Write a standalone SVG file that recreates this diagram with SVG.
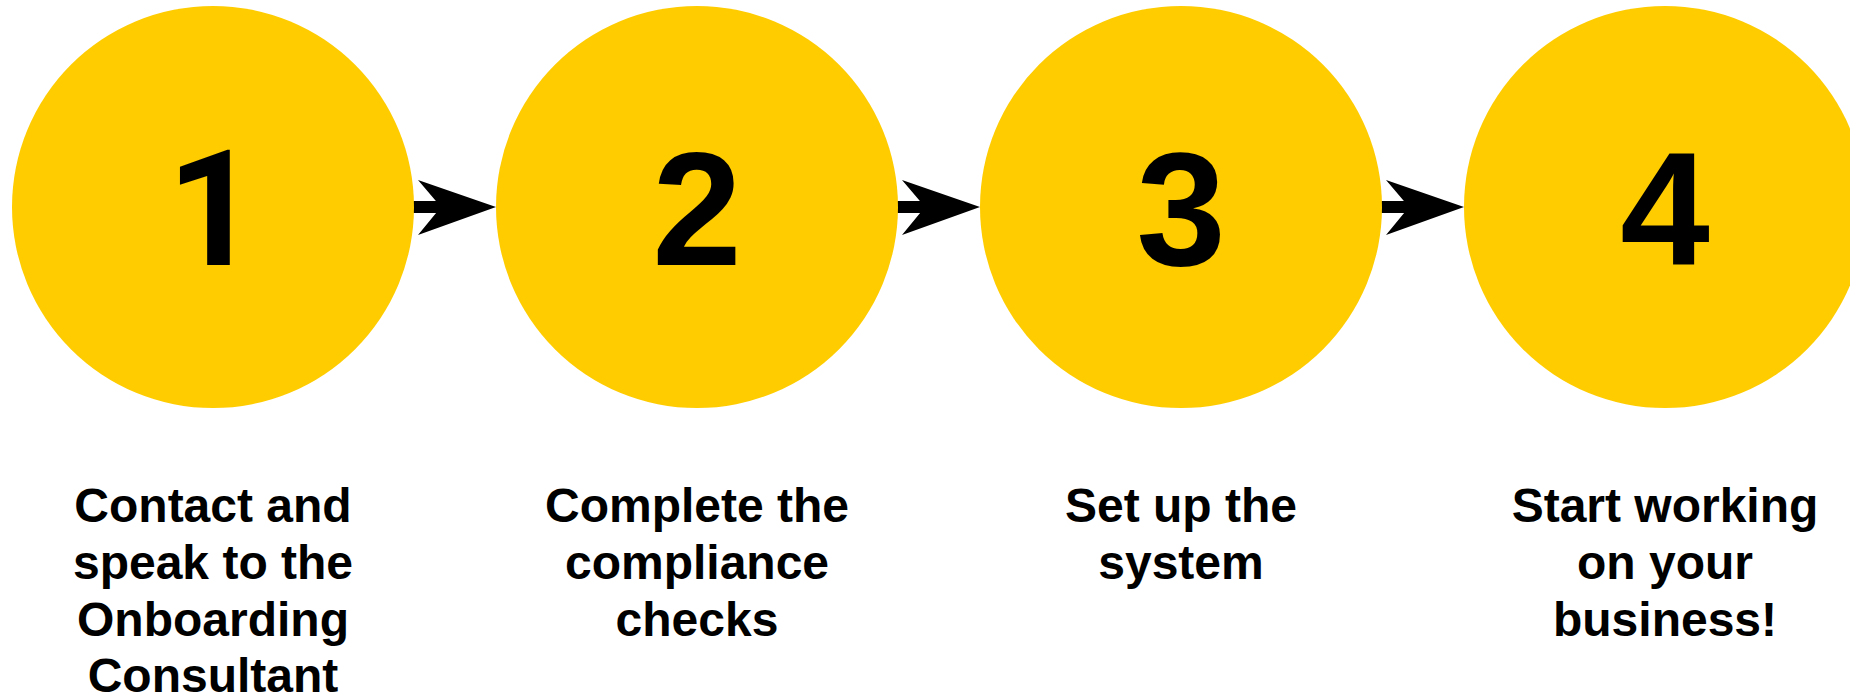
<svg xmlns="http://www.w3.org/2000/svg" width="1850" height="699" viewBox="0 0 1850 699">
<style>
.c{fill:#FFCC00}
.n{font-family:"Liberation Sans",Arial,sans-serif;font-weight:bold;font-size:161px;fill:#000;text-anchor:middle}
.n1{font-family:Roboto,"Liberation Sans",sans-serif}
.t{font-family:"Liberation Sans",Arial,sans-serif;font-weight:bold;font-size:48px;fill:#000;text-anchor:middle}
.ln{stroke:#000;stroke-width:12;fill:none}
</style>
<defs>
<path id="ah" d="M0,0 L-78,-27 L-55,0 L-78,28 Z" fill="#000"/>
</defs>
<rect width="1850" height="699" fill="#fff"/>
<g id="connectors">
<line class="ln" x1="412" y1="207" x2="445" y2="207"/><use href="#ah" x="496" y="207"/>
<line class="ln" x1="896" y1="207" x2="929" y2="207"/><use href="#ah" x="980" y="207"/>
<line class="ln" x1="1380" y1="207" x2="1413" y2="207"/><use href="#ah" x="1464" y="207"/>
</g>
<g id="node1">
<circle class="c" cx="213" cy="207" r="201"/>
<text class="n n1" x="213" y="265">1</text>
<text class="t" x="213" y="522">Contact and</text>
<text class="t" x="213" y="579">speak to the</text>
<text class="t" x="213" y="636">Onboarding</text>
<text class="t" x="213" y="692">Consultant</text>
</g>
<g id="node2">
<circle class="c" cx="697" cy="207" r="201"/>
<text class="n" x="697" y="265">2</text>
<text class="t" x="697" y="522">Complete the</text>
<text class="t" x="697" y="579">compliance</text>
<text class="t" x="697" y="636">checks</text>
</g>
<g id="node3">
<circle class="c" cx="1181" cy="207" r="201"/>
<text class="n" x="1181" y="265">3</text>
<text class="t" x="1181" y="522">Set up the</text>
<text class="t" x="1181" y="579">system</text>
</g>
<g id="node4">
<circle class="c" cx="1665" cy="207" r="201"/>
<text class="n" x="1665" y="265">4</text>
<text class="t" x="1665" y="522">Start working</text>
<text class="t" x="1665" y="579">on your</text>
<text class="t" x="1665" y="636">business!</text>
</g>
</svg>
